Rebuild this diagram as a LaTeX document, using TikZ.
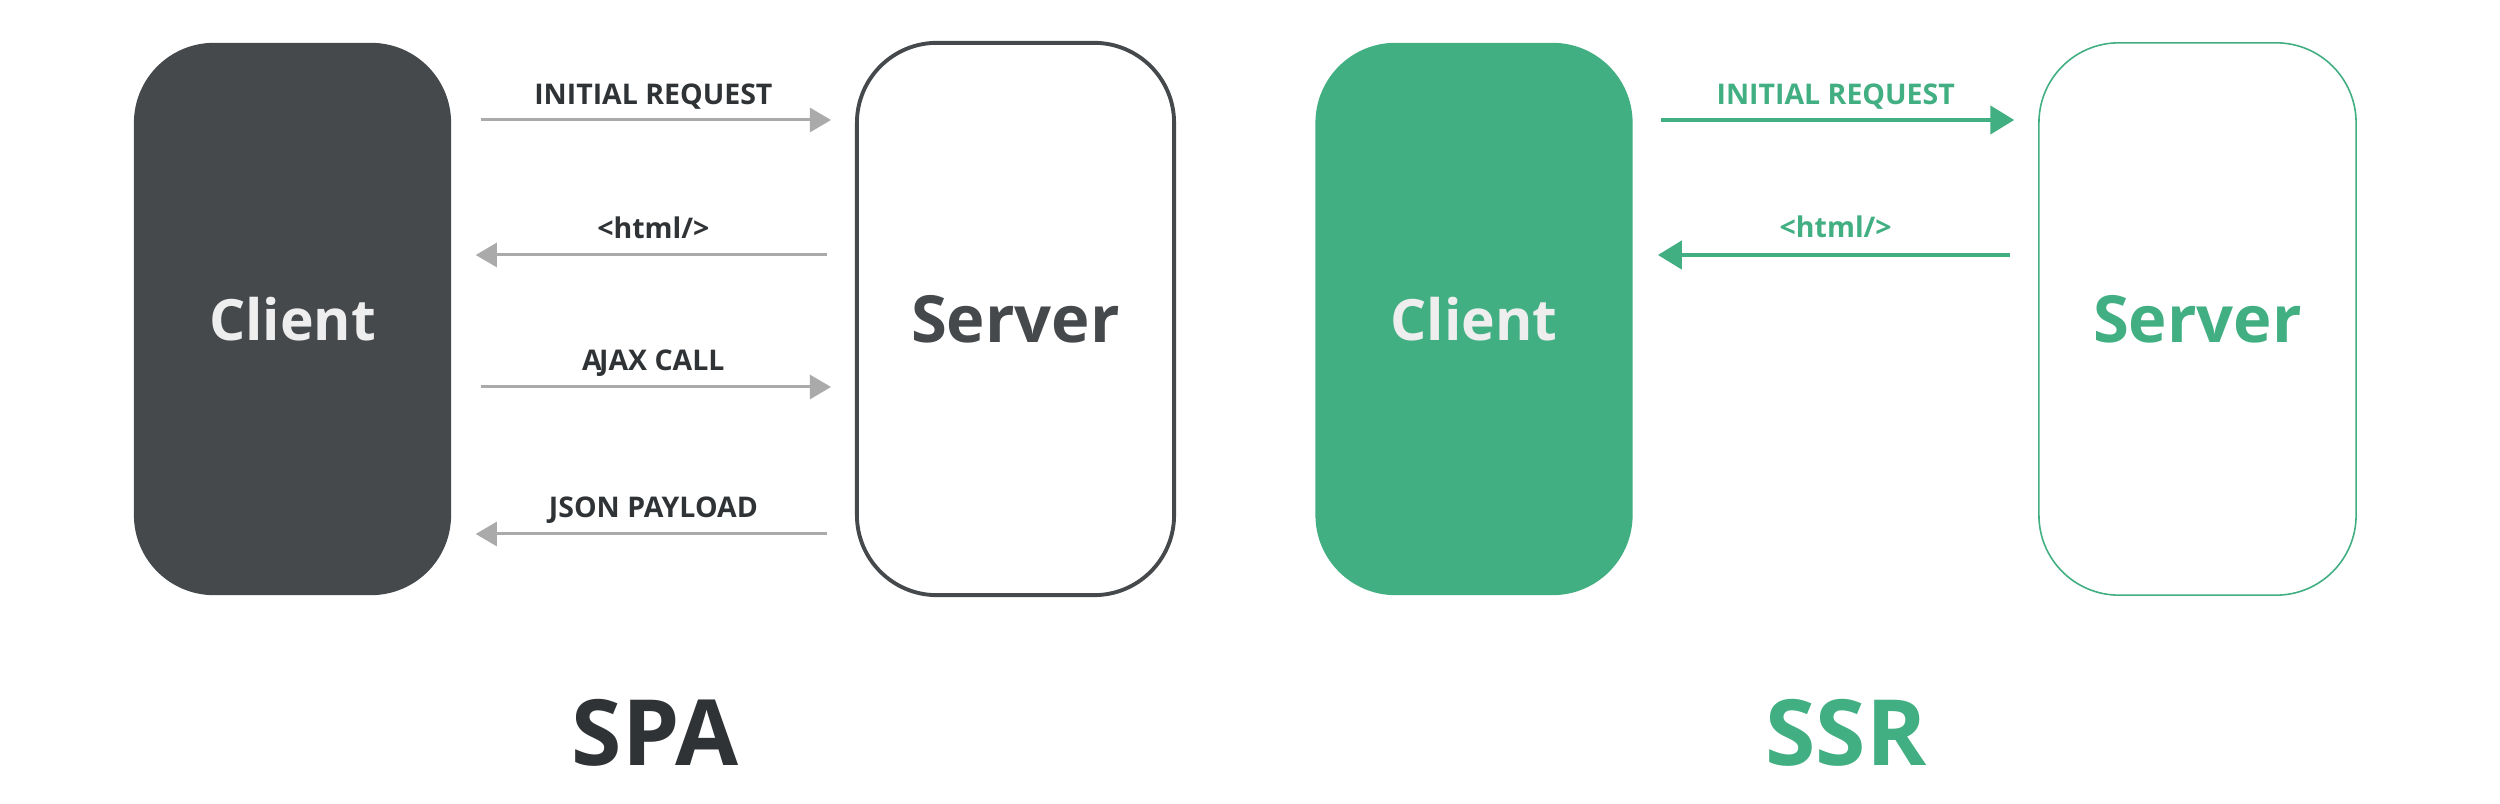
\documentclass[tikz,border=0pt]{standalone}
\usepackage{fontspec}
\setmainfont{Open Sans}
\usetikzlibrary{arrows.meta,calc}
\definecolor{darkbox}{HTML}{45494C}
\definecolor{darktext}{HTML}{303336}
\definecolor{greyarr}{HTML}{AAAAAA}
\definecolor{vgreen}{HTML}{41AF82}
\definecolor{lighttext}{HTML}{EEEEEE}
\begin{document}
\begin{tikzpicture}[x=0.01cm,y=-0.01cm,
  boxbase/.style={rectangle, rounded corners=0.8cm, minimum width=3.17cm, minimum height=5.52cm, inner sep=0pt},
  clientdark/.style={boxbase, fill=darkbox, text=lighttext, font=\bfseries\fontsize{16.2}{18}\selectfont},
  serverdark/.style={boxbase, draw=darkbox, line width=1.1pt, fill=white, text=darkbox, font=\bfseries\fontsize{18.5}{21}\selectfont},
  clientgreen/.style={boxbase, fill=vgreen, text=lighttext, font=\bfseries\fontsize{16.2}{18}\selectfont},
  servergreen/.style={boxbase, draw=vgreen, line width=0.45pt, fill=white, text=vgreen, font=\bfseries\fontsize{18.5}{21}\selectfont},
  greyarrow/.style={draw=greyarr, line width=0.85pt, -{Triangle[length=6pt,width=6.8pt]}},
  greenarrow/.style={draw=vgreen, line width=1.1pt, -{Triangle[length=6.8pt,width=8pt]}},
  lbldark/.style={font=\bfseries\fontsize{8.1}{9}\selectfont, text=darktext, inner sep=0pt},
  lblgreen/.style={font=\bfseries\fontsize{8.1}{9}\selectfont, text=vgreen, inner sep=0pt},
  titledark/.style={font=\bfseries\fontsize{26}{30}\selectfont, text=darktext, inner sep=0pt},
  titlegreen/.style={font=\bfseries\fontsize{26}{30}\selectfont, text=vgreen, inner sep=0pt}
]
\useasboundingbox (0,0) rectangle (2500,804);
\fill[white] (0,0) rectangle (2500,804);

% SPA
\node[clientdark] (c1) at (292.5,319) {Client};
\node[serverdark] (s1) at (1015.5,319) {Server};
% SSR
\node[clientgreen] (c2) at (1474,319) {Client};
\node[servergreen] (s2) at (2197.5,319) {Server};

\coordinate (r1) at (0,120);
\coordinate (r2) at (0,255);
\coordinate (r3) at (0,387);
\coordinate (r4) at (0,534);

% SPA arrows
\draw[greyarrow, shorten <=8.3pt, shorten >=6.8pt] (c1.east |- r1) -- (s1.west |- r1)
  node[lbldark, midway, above=2.6pt] (l1) {INITIAL REQUEST};
\draw[greyarrow, shorten <=8pt, shorten >=6.8pt] (s1.west |- r2) -- (c1.east |- r2)
  node[lbldark, midway, above=4.3pt] (l2) {<html/>};
\draw[greyarrow, shorten <=8.3pt, shorten >=6.8pt] (c1.east |- r3) -- (s1.west |- r3)
  node[lbldark, midway, above=2.6pt] (l3) {A\kern-0.8pt JAX CALL};
\draw[greyarrow, shorten <=8pt, shorten >=6.8pt] (s1.west |- r4) -- (c1.east |- r4)
  node[lbldark, midway, above=2.6pt] (l4) {JSON PAYLOAD};

% SSR arrows
\draw[greenarrow, shorten <=8pt, shorten >=6.8pt] (c2.east |- r1) -- (s2.west |- r1)
  node[lblgreen, midway, above=2.6pt] (g1) {INITIAL REQUEST};
\draw[greenarrow, shorten <=8pt, shorten >=7pt] (s2.west |- r2) -- (c2.east |- r2)
  node[lblgreen, midway, above=4.3pt] (g2) {<html/>};

% titles
\node[titledark] (t1) at (655,733) {SPA};
\node[titlegreen] (t2) at (1846,733) {SSR};
\end{tikzpicture}
\end{document}
